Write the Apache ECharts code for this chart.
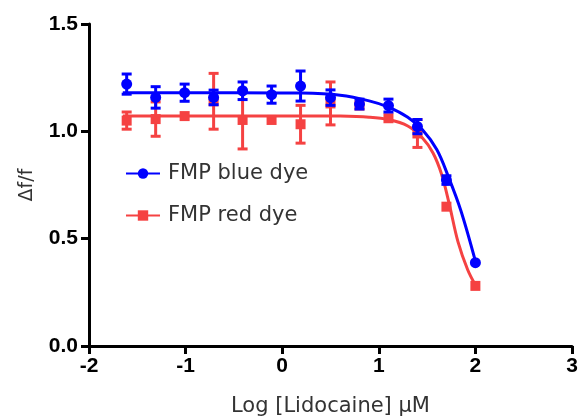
<!DOCTYPE html>
<html>
<head>
<meta charset="utf-8">
<script src="https://cdn.jsdelivr.net/npm/echarts@6/dist/echarts.min.js"></script>
<style>html,body{margin:0;padding:0;background:#fff}#c{width:580px;height:417px}</style>
</head>
<body>
<div id="c"></div>
<script>
// log concentrations (µM)
var logConc = [-1.61, -1.31, -1.01, -0.71, -0.41, -0.11, 0.19, 0.50, 0.80, 1.10, 1.40, 1.70, 2.00];
// FMP blue dye: mean and error
var blueMean = [1.220, 1.158, 1.180, 1.158, 1.189, 1.171, 1.211, 1.157, 1.127, 1.120, 1.022, 0.773, 0.388];
var blueErr  = [0.047, 0.050, 0.040, 0.034, 0.041, 0.040, 0.070, 0.036, 0.023, 0.030, 0.033, 0.020, 0];
// FMP red dye: mean and error
var redMean = [1.050, 1.057, 1.071, 1.140, 1.053, 1.053, 1.033, 1.130, 1.120, 1.061, 0.990, 0.649, 0.280];
var redErr  = [0.040, 0.080, 0, 0.130, 0.135, 0, 0.088, 0.100, 0, 0, 0.065, 0, 0];
// fitted curves
var blueFitX = [-1.65, -0.5, 0.2, 0.6, 0.9, 1.1, 1.3, 1.45, 1.6, 1.72, 1.85, 2.0];
var blueFitY = [1.180, 1.180, 1.178, 1.168, 1.142, 1.113, 1.066, 1.008, 0.915, 0.789, 0.630, 0.395];
var redFitX = [-1.65, -0.5, 0.2, 0.6, 0.9, 1.1, 1.3, 1.45, 1.56, 1.65, 1.73, 1.82, 1.92, 2.0];
var redFitY = [1.072, 1.072, 1.072, 1.071, 1.066, 1.055, 1.025, 0.970, 0.900, 0.800, 0.660, 0.485, 0.355, 0.284];
// axis ticks
var xTicks = [-2, -1, 0, 1, 2, 3];
var yTicks = [0.0, 0.5, 1.0, 1.5];

var BLUE = '#0000ff', RED = '#f54242';

function zip(a, b) { return a.map(function (v, i) { return [v, b[i]]; }); }
function errData(m, e) { return logConc.map(function (x, i) { return [x, m[i], e[i]]; }); }

function errRender(color) {
  return function (params, api) {
    var x = api.value(0), y = api.value(1), e = api.value(2);
    if (!e) return null;
    var top = api.coord([x, y + e]);
    var bot = api.coord([x, y - e]);
    var hw = 5;
    var st = { stroke: color, lineWidth: 3, fill: null };
    return {
      type: 'group',
      children: [
        { type: 'line', shape: { x1: top[0], y1: top[1], x2: bot[0], y2: bot[1] }, style: st },
        { type: 'line', shape: { x1: top[0] - hw, y1: top[1], x2: top[0] + hw, y2: top[1] }, style: st },
        { type: 'line', shape: { x1: bot[0] - hw, y1: bot[1], x2: bot[0] + hw, y2: bot[1] }, style: st }
      ]
    };
  };
}

var chart = echarts.init(document.getElementById('c'), null, { renderer: 'canvas' });
var axisLabelStyle = { color: '#000', fontSize: 21, fontWeight: 'bold', fontFamily: 'Liberation Sans, Arial, sans-serif' };
var TEXT_FONT = 'DejaVu Sans, sans-serif';
chart.setOption({
  animation: false,
  grid: { left: 89, right: 8, top: 24, bottom: 71, containLabel: false, outerBoundsMode: 'none' },
  legend: {
    orient: 'vertical', left: 120, top: 158,
    itemWidth: 34, itemHeight: 13, itemGap: 21,
    data: ['FMP blue dye', 'FMP red dye'],
    textStyle: { fontSize: 21, color: '#333', fontFamily: TEXT_FONT, padding: [0, 0, 0, 3] }
  },
  xAxis: {
    type: 'value', min: xTicks[0], max: xTicks[xTicks.length - 1], interval: 1,
    name: 'Log [Lidocaine] µM', nameLocation: 'middle', nameGap: 50,
    nameTextStyle: { fontSize: 21, color: '#333', fontFamily: TEXT_FONT },
    axisLine: { onZero: false, lineStyle: { color: '#000', width: 3 } },
    axisTick: { length: 8, lineStyle: { color: '#000', width: 3 } },
    axisLabel: Object.assign({ margin: 10, formatter: function (v) { return String(v); } }, axisLabelStyle),
    splitLine: { show: false }
  },
  yAxis: {
    type: 'value', min: yTicks[0], max: yTicks[yTicks.length - 1], interval: 0.5,
    name: 'Δf/f', nameLocation: 'middle', nameGap: 52, nameRotate: 90,
    nameTextStyle: { fontSize: 19, color: '#333', fontFamily: TEXT_FONT },
    axisLine: { show: true, onZero: false, lineStyle: { color: '#000', width: 3 } },
    axisTick: { show: true, length: 8, lineStyle: { color: '#000', width: 3 } },
    axisLabel: Object.assign({ margin: 11, formatter: function (v) { return v.toFixed(1); } }, axisLabelStyle),
    splitLine: { show: false }
  },
  series: [
    { type: 'custom', name: 'redErr', data: errData(redMean, redErr), renderItem: errRender(RED), encode: { x: 0, y: 1 }, z: 2 },
    { type: 'line', name: 'FMP red dye', data: zip(redFitX, redFitY), smooth: 0.35, showSymbol: false, symbol: 'rect',
      lineStyle: { color: RED, width: 3 }, itemStyle: { color: RED }, z: 2 },
    { type: 'scatter', name: 'redPts', data: zip(logConc, redMean), symbol: 'rect', symbolSize: 10, itemStyle: { color: RED, opacity: 1 }, z: 2 },
    { type: 'custom', name: 'blueErr', data: errData(blueMean, blueErr), renderItem: errRender(BLUE), encode: { x: 0, y: 1 }, z: 3 },
    { type: 'line', name: 'FMP blue dye', data: zip(blueFitX, blueFitY), smooth: 0.35, showSymbol: false, symbol: 'circle',
      lineStyle: { color: BLUE, width: 3 }, itemStyle: { color: BLUE }, z: 3 },
    { type: 'scatter', name: 'bluePts', data: zip(logConc, blueMean), symbol: 'circle', symbolSize: 11, itemStyle: { color: BLUE, opacity: 1 }, z: 3 }
  ]
});
</script>
</body>
</html>
